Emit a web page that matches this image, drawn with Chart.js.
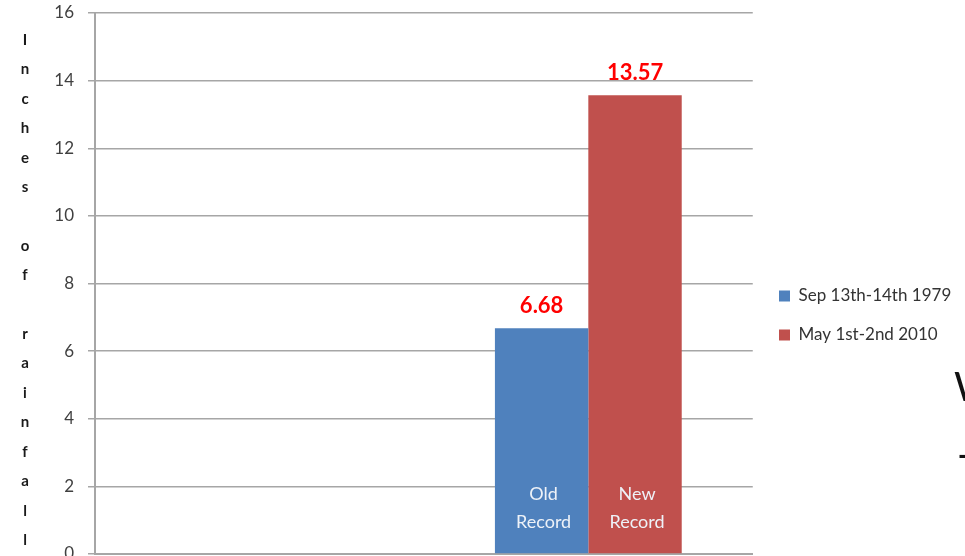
<!DOCTYPE html>
<html>
<head>
<meta charset="utf-8">
<script src="https://cdn.jsdelivr.net/npm/chart.js@4/dist/chart.umd.min.js"></script>
<style>
  html, body { margin: 0; padding: 0; background: #fff; overflow: hidden; width: 965px; height: 556px; }
  #wrap { position: absolute; left: 0; top: 0; width: 965px; height: 600px; }
  #ytitle { position: absolute; left: 15px; top: 25px; width: 20px; text-align: center;
    font: bold 15px Lato, "Noto Sans", sans-serif; line-height: 29.4px; color: #1a1a1a; white-space: pre; margin: 0; }
  .frag { position: absolute; font-family: Lato, "Noto Sans", sans-serif; color: #111; }
</style>
</head>
<body>
<div id="wrap"><canvas id="c"></canvas></div>
<pre id="ytitle"></pre>
<span class="frag" style="left:954px; top:362px; font-size:40px;">W</span>
<span class="frag" style="left:957px; top:430px; font-size:40px;">-</span>
<script>
const categories = ['', ''];
const seriesNames = ['Sep 13th-14th 1979', 'May 1st-2nd 2010'];
const oldRecord = [null, 6.68];
const newRecord = [null, 13.57];
const barLabels = ['Old Record', 'New Record'];
const valueLabels = ['6.68', '13.57'];
const yTicks = [0, 2, 4, 6, 8, 10, 12, 14, 16];
const yTitle = 'Inches of rainfall';
const colors = ['#4f81bd', '#c0504d'];

document.getElementById('ytitle').textContent = yTitle.split('').join('\n');

const FONT = 'Lato, "Noto Sans", sans-serif';

const barText = {
  id: 'barText',
  afterLayout(chart) {
    const lg = chart.legend;
    if (lg) {
      const dx = 779 - 22 - lg.left;
      lg.left += dx; lg.right += dx; lg.top += 9; lg.bottom += 9;
    }
  },
  afterDatasetsDraw(chart) {
    const ctx = chart.ctx;
    ctx.save();
    chart.data.datasets.forEach((ds, i) => {
      const meta = chart.getDatasetMeta(i);
      meta.data.forEach((el, j) => {
        if (ds.data[j] == null) return;
        ctx.textAlign = 'center';
        ctx.textBaseline = 'middle';
        ctx.fillStyle = '#ff0000';
        ctx.font = 'bold 22px ' + FONT;
        ctx.fillText(valueLabels[i], el.x, el.y - 22);
        const parts = barLabels[i].split(' ');
        ctx.fillStyle = '#eef2f8';
        ctx.font = '18px ' + FONT;
        ctx.fillText(parts[0], el.x + 2, el.base - 59);
        ctx.fillText(parts[1], el.x + 2, el.base - 31);
      });
    });
    ctx.restore();
  }
};

new Chart(document.getElementById('c'), {
  type: 'bar',
  data: {
    labels: categories,
    datasets: [
      { label: seriesNames[0], data: oldRecord, backgroundColor: colors[0] },
      { label: seriesNames[1], data: newRecord, backgroundColor: colors[1] }
    ]
  },
  options: {
    responsive: true,
    maintainAspectRatio: false,
    animation: false,
    layout: { padding: { top: 13, left: 0, right: 8, bottom: 0 } },
    datasets: { bar: { categoryPercentage: 0.568, barPercentage: 1 } },
    plugins: {
      legend: {
        position: 'right',
        labels: {
          boxWidth: 11, boxHeight: 11, padding: 22,
          font: { family: FONT, size: 17 }, color: '#333'
        }
      },
      tooltip: { enabled: false }
    },
    scales: {
      x: {
        grid: { display: false },
        border: { display: true, color: '#a6a6a6', width: 2 },
        ticks: { display: false },
        afterFit(s) { s.height = 46; s.paddingLeft = 0; s.paddingRight = 0; }
      },
      y: {
        min: 0, max: 16,
        afterBuildTicks(s) { s.ticks = yTicks.map(v => ({ value: v })); },
        grid: { color: '#a6a6a6', lineWidth: 1.5, tickLength: 7, drawTicks: true },
        border: { display: true, color: '#a6a6a6', width: 2 },
        ticks: { padding: 14, color: '#404040', font: { family: FONT, size: 17 } },
        afterFit(s) { s.width = 95; s.paddingTop = 0; s.paddingBottom = 0; }
      }
    }
  },
  plugins: [barText]
});
</script>
</body>
</html>
